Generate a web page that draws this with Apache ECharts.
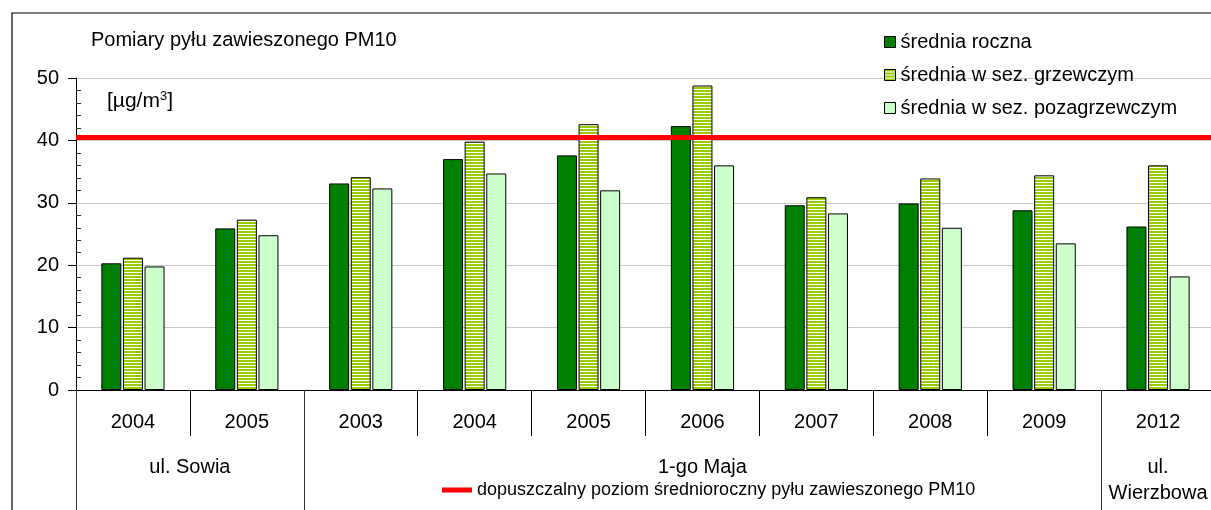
<!DOCTYPE html>
<html>
<head>
<meta charset="utf-8">
<script src="https://cdn.jsdelivr.net/npm/echarts@6/dist/echarts.min.js"></script>
<style>
  html, body { margin: 0; padding: 0; background: #fff; overflow: hidden; }
  #chart { width: 1230px; height: 510px; }
</style>
</head>
<body>
<div id="chart"></div>
<script>
  const categories = ['2004', '2005', '2003', '2004', '2005', '2006', '2007', '2008', '2009', '2012'];
  const sredniaRoczna = [20.3, 25.9, 33.1, 37.0, 37.6, 42.3, 29.6, 29.9, 28.8, 26.2];
  const sredniaGrzewczy = [21.2, 27.3, 34.1, 39.8, 42.6, 48.8, 30.9, 33.9, 34.4, 36.0];
  const sredniaPozagrzewczy = [19.8, 24.8, 32.3, 34.7, 32.0, 36.0, 28.3, 26.0, 23.5, 18.2];

  // street groups: name + [first, last) category index
  const groupNames = ['ul. Sowia', '1-go Maja', 'ul.\nWierzbowa'];
  const groupStart = [0, 2, 9];
  const groupEnd = [2, 9, 10];

  const LIMIT = 40.5;
  const limitName = 'dopuszczalny poziom średnioroczny pyłu zawieszonego PM10';
  const seriesNames = ['średnia roczna', 'średnia w sez. grzewczym', 'średnia w sez. pozagrzewczym'];

  const FONT = '"Liberation Sans", Arial, sans-serif';

  // horizontal stripes for the heating-season bars
  function stripePattern() {
    const c = document.createElement('canvas');
    c.width = 4; c.height = 3;
    const ctx = c.getContext('2d');
    ctx.fillStyle = '#ffffff';
    ctx.fillRect(0, 0, 4, 3);
    ctx.fillStyle = '#99cc00';
    ctx.fillRect(0, 0, 4, 2);
    return { image: c, repeat: 'repeat' };
  }

  const groupTicks = groupStart.concat([groupEnd[groupEnd.length - 1]]);
  const groupMids = groupNames.map((_, i) => (groupStart[i] + groupEnd[i]) / 2);

  const chart = echarts.init(document.getElementById('chart'), null, { renderer: 'canvas' });

  const barStyle = (color) => ({ color, borderColor: '#000', borderWidth: 1 });

  chart.setOption({
    animation: false,
    textStyle: { fontFamily: FONT },
    title: {
      text: 'Pomiary pyłu zawieszonego PM10',
      left: 86, top: 25,
      textStyle: { fontFamily: FONT, fontSize: 20, fontWeight: 'normal', color: '#000' }
    },
    legend: [
      {
        data: seriesNames,
        orient: 'vertical',
        left: 884, top: 32, padding: 0,
        itemWidth: 11, itemHeight: 11, itemGap: 13,
        icon: 'rect',
        itemStyle: { borderColor: '#000', borderWidth: 1 },
        textStyle: { fontFamily: FONT, fontSize: 20, color: '#000', lineHeight: 20 },
        selectedMode: false
      },
      {
        data: [limitName],
        left: 442, top: 481, padding: 0,
        itemWidth: 30, itemHeight: 5,
        icon: 'rect',
        textStyle: { fontFamily: FONT, fontSize: 18, color: '#000' },
        selectedMode: false
      }
    ],
    grid: { left: 76, right: 15, top: 78, bottom: 120, containLabel: false },
    xAxis: [
      {
        type: 'category',
        data: categories,
        position: 'bottom',
        axisLine: { lineStyle: { color: '#000', width: 1 } },
        axisTick: { show: true, interval: 0, length: 46, lineStyle: { color: '#000' } },
        axisLabel: {
          interval: 0, margin: 19, fontSize: 20, color: '#000', fontFamily: FONT,
          verticalAlign: 'top', lineHeight: 26
        }
      },
      {
        type: 'value',
        min: 0, max: 10,
        position: 'bottom',
        axisLine: { show: false },
        splitLine: { show: false },
        axisTick: { show: true, customValues: groupTicks, length: 120, lineStyle: { color: '#333' } },
        axisLabel: {
          customValues: groupMids,
          formatter: (v) => groupNames[groupMids.indexOf(v)] || '',
          margin: 64, fontSize: 20, color: '#000', fontFamily: FONT,
          verticalAlign: 'top', lineHeight: 26
        }
      }
    ],
    yAxis: [
      {
        type: 'value',
        min: 0, max: 50, interval: 10,
        position: 'left',
        axisLine: { show: true, lineStyle: { color: '#000' } },
        axisTick: { show: true, length: 8, lineStyle: { color: '#000' } },
        axisLabel: { margin: 17, fontSize: 20, color: '#000', fontFamily: FONT },
        splitLine: { show: true, lineStyle: { color: '#c8c8c8', width: 1 } }
      },
      {
        type: 'value',
        min: 0, max: 50, interval: 10,
        position: 'left',
        axisLine: { show: false },
        axisLabel: { show: false },
        splitLine: { show: false },
        axisTick: { show: false, inside: true },
        minorTick: { show: true, splitNumber: 5, length: 5, lineStyle: { color: '#333' } }
      }
    ],
    graphic: [
      {
        type: 'rect', silent: true, z: -1,
        shape: { x: 12, y: 13, width: 1400, height: 700 },
        style: { fill: 'none', stroke: '#000', lineWidth: 1.2 }
      },
      {
        type: 'text', left: 107, top: 90, silent: true,
        style: {
          text: '[µg/m{sup|3}]',
          font: '21px "Liberation Sans", Arial, sans-serif',
          fill: '#000',
          rich: { sup: { fontSize: 13, verticalAlign: 'top', padding: [0, 0, 9, 0] } }
        }
      }
    ],
    series: [
      {
        name: seriesNames[0], type: 'bar', data: sredniaRoczna,
        barWidth: 20, barGap: '8%',
        itemStyle: barStyle('#008000')
      },
      {
        name: seriesNames[1], type: 'bar', data: sredniaGrzewczy,
        barWidth: 20, barGap: '8%',
        itemStyle: barStyle(stripePattern())
      },
      {
        name: seriesNames[2], type: 'bar', data: sredniaPozagrzewczy,
        barWidth: 20, barGap: '8%',
        itemStyle: barStyle('#ccffcc')
      },
      {
        name: limitName, type: 'line', data: [],
        itemStyle: { color: '#ff0000' },
        lineStyle: { color: '#ff0000' },
        markLine: {
          silent: true, symbol: 'none', z: 10,
          label: { show: false },
          lineStyle: { color: '#ff0000', width: 5, type: 'solid' },
          data: [{ yAxis: LIMIT }]
        }
      }
    ]
  });
</script>
</body>
</html>
